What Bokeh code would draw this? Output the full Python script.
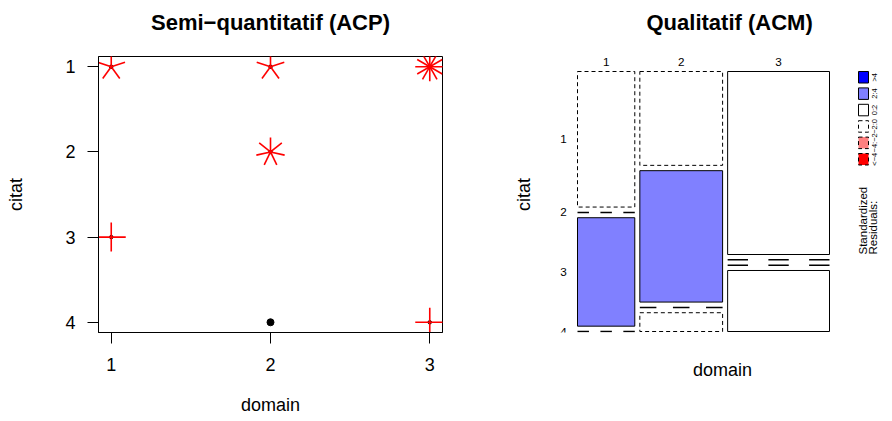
import numpy as np
from bokeh.plotting import figure
from bokeh.models import Range1d, FixedTicker, ColumnDataSource, Title
from bokeh.layouts import row
from bokeh.embed import file_html
from bokeh.resources import INLINE
from bokeh.core.properties import value

FONT = "Liberation Sans"

# ---------------- data ----------------
domain_levels = [1, 2, 3]
citat_levels = [1, 2, 3, 4]
counts_domain1 = [5, 0, 4, 0]
counts_domain2 = [5, 7, 0, 1]
counts_domain3 = [12, 0, 0, 4]
residual_breaks = [-4, -2, 0, 2, 4]
residual_labels = ["<\u22124", "\u22124:\u22122", "\u22122:0", "0:2", "2:4", ">4"]
residual_colors = ["#FF0000", "#FF8080", "#FFFFFF", "#FFFFFF", "#8080FF", "#0000FF"]
residual_dashed = [True, True, True, False, False, False]

table = np.array([counts_domain1, counts_domain2, counts_domain3], dtype=float)

# ---------------- shared layout ----------------
H = 421
TOP, BOTTOM = 56, 332            # frame top/bottom (shared by both panels)
BT, BB = TOP, H - BOTTOM


def style_axis(ax):
    ax.major_tick_in = 0
    ax.minor_tick_out = 0
    ax.minor_tick_in = 0
    ax.axis_line_color = "black"
    ax.major_tick_line_color = "black"
    ax.major_label_text_font = FONT
    ax.major_label_text_font_size = "18px"
    ax.major_label_text_color = "black"
    ax.axis_label_text_font = FONT
    ax.axis_label_text_font_size = "18px"
    ax.axis_label_text_font_style = "normal"
    ax.axis_label_text_color = "black"


def add_titles(p, text, align, offset):
    # invisible spacer between frame and title, then the bold title above it
    p.add_layout(Title(text=" ", text_font=FONT, text_font_size="12px", text_color="white",
                       standoff=4), "above")
    p.add_layout(Title(text=text, align=align, offset=offset, text_font=FONT, text_font_size="22px",
                       text_font_style="bold", text_color="black", vertical_align="top",
                       standoff=0), "above")


# ---------------- left: sunflower plot ----------------
XR = (0.92, 3.08)
YR = (4.12, 0.88)
W1 = 446
BL1, BR1 = 98, 4
FW1, FH = W1 - BL1 - BR1, H - BT - BB
p1 = figure(width=W1, height=H, sizing_mode="fixed",
            min_border_left=BL1, min_border_right=BR1, min_border_top=BT, min_border_bottom=BB,
            x_range=Range1d(*XR), y_range=Range1d(*YR),
            toolbar_location=None, output_backend="svg", title=None)
add_titles(p1, "Semi\u2212quantitatif (ACP)", "center", 0)
p1.grid.visible = False
p1.outline_line_color = "black"
p1.outline_line_alpha = 1
p1.outline_line_width = 1
p1.background_fill_color = "white"
p1.border_fill_color = "white"

for ax in (p1.xaxis[0], p1.yaxis[0]):
    style_axis(ax)
    ax.major_tick_out = 11
p1.xaxis.ticker = FixedTicker(ticks=domain_levels)
p1.yaxis.ticker = FixedTicker(ticks=citat_levels)
p1.xaxis.axis_label = "domain"
p1.yaxis.axis_label = "citat"
p1.xaxis.major_label_standoff = 14
p1.xaxis.axis_label_standoff = 21
p1.yaxis.major_label_standoff = 12
p1.yaxis.axis_label_standoff = 36

# sunflower construction
PETAL_PX = 14.5
ux = (XR[1] - XR[0]) / FW1
uy = (YR[0] - YR[1]) / FH
one_x, one_y, multi_x, multi_y = [], [], [], []
sx0, sy0, sx1, sy1 = [], [], [], []
for j, d in enumerate(domain_levels):
    for i, c in enumerate(citat_levels):
        n = int(table[j, i])
        if n == 1:
            one_x.append(d); one_y.append(c)
        elif n > 1:
            multi_x.append(d); multi_y.append(c)
            for k in range(1, n + 1):
                deg = 2 * np.pi * k / n
                sx0.append(d); sy0.append(c)
                sx1.append(d + np.sin(deg) * PETAL_PX * ux)
                sy1.append(c - np.cos(deg) * PETAL_PX * uy)
p1.scatter(one_x, one_y, marker="circle", size=7, fill_color="black", line_color="black")
p1.scatter(multi_x, multi_y, marker="circle", size=3.5, fill_color="black", line_color="black")
p1.segment(sx0, sy0, sx1, sy1, line_color="#FF0000", line_width=1.6)

# ---------------- right: mosaic plot ----------------
# the right frame uses page-pixel coordinates (y downward)
W2 = 446
FX0, FX1 = 559, 885
BL2 = FX0 - W1
BR2 = W1 + W2 - FX1
p2 = figure(width=W2, height=H, sizing_mode="fixed",
            min_border_left=BL2, min_border_right=BR2, min_border_top=BT, min_border_bottom=BB,
            x_range=Range1d(FX0, FX1), y_range=Range1d(BOTTOM, TOP),
            toolbar_location=None, output_backend="svg", title=None)
add_titles(p2, "Qualitatif (ACM)", "left", 646 - FX0)
p2.grid.visible = False
p2.outline_line_color = None
p2.background_fill_color = "white"
p2.border_fill_color = "white"
for ax in (p2.xaxis[0], p2.yaxis[0]):
    style_axis(ax)
    ax.ticker = FixedTicker(ticks=[])
    ax.axis_line_color = None
    ax.major_tick_line_color = None
    ax.major_tick_out = 0
    ax.major_label_standoff = 0
p2.xaxis.axis_label = "domain"
p2.xaxis.axis_label_standoff = 27
p2.yaxis.axis_label = "citat"
p2.yaxis.axis_label_standoff = 26

MOS_L, MOS_R, MOS_T, MOS_B = 577, 829, 71, 331
GAPX, GAPY = 0.02, 0.0205

col_tot = table.sum(axis=1)
row_tot = table.sum(axis=0)
N = table.sum()
expected = np.outer(col_tot, row_tot) / N
resid = (table - expected) / np.sqrt(expected)

ncol, nrow = table.shape
gx = GAPX * (MOS_R - MOS_L)
usable_w = (MOS_R - MOS_L) - gx * (ncol - 1)
gy = GAPY * (MOS_B - MOS_T)
usable_h = (MOS_B - MOS_T) - gy * (nrow - 1)

cells = {False: dict(left=[], right=[], top=[], bottom=[], color=[]),
         True: dict(left=[], right=[], top=[], bottom=[], color=[])}
zx0, zx1, zy = [], [], []
col_centers = []
row_centers_first = []
xl = MOS_L
for j in range(ncol):
    w = usable_w * col_tot[j] / N
    xr = xl + w
    col_centers.append((xl + xr) / 2)
    yt = MOS_T
    for i in range(nrow):
        h = usable_h * table[j, i] / col_tot[j]
        yb = yt + h
        if j == 0:
            row_centers_first.append((yt + yb) / 2)
        if table[j, i] > 0:
            b = int(np.searchsorted(residual_breaks, resid[j, i]))
            dsh = residual_dashed[b]
            cells[dsh]["left"].append(xl); cells[dsh]["right"].append(xr)
            cells[dsh]["top"].append(yt); cells[dsh]["bottom"].append(yb)
            cells[dsh]["color"].append(residual_colors[b])
        else:
            for k in (0, 2, 4):
                zx0.append(xl + w * k / 5); zx1.append(xl + w * (k + 1) / 5); zy.append(yt)
        yt = yb + gy
    xl = xr + gx

p2.quad(source=ColumnDataSource(cells[False]), left="left", right="right", top="top", bottom="bottom",
        fill_color="color", line_color="black", line_width=1)
p2.quad(source=ColumnDataSource(cells[True]), left="left", right="right", top="top", bottom="bottom",
        fill_color="color", line_color="black", line_width=1, line_dash="4 3")
p2.segment(zx0, zy, zx1, zy, line_color="black", line_width=1.5)

# category labels
p2.text(col_centers, [61] * ncol, text=[str(d) for d in domain_levels],
        text_font=value(FONT), text_font_size="11.7px", text_align="center", text_baseline="middle",
        text_color="black")
p2.text([563] * nrow, row_centers_first, text=[str(c) for c in citat_levels],
        text_font=value(FONT), text_font_size="11.7px", text_align="center", text_baseline="middle",
        text_color="black")

# legend
LEG_X0, LEG_X1, LEG_TOP, LEG_H, LEG_PITCH = 858, 868, 71, 11.5, 16.4
order = list(range(len(residual_labels)))[::-1]  # top: >4
leg = {False: dict(left=[], right=[], top=[], bottom=[], color=[]),
       True: dict(left=[], right=[], top=[], bottom=[], color=[])}
lab_y = []
for r, b in enumerate(order):
    t = LEG_TOP + r * LEG_PITCH
    dsh = residual_dashed[b]
    leg[dsh]["left"].append(LEG_X0); leg[dsh]["right"].append(LEG_X1)
    leg[dsh]["top"].append(t); leg[dsh]["bottom"].append(t + LEG_H)
    leg[dsh]["color"].append(residual_colors[b])
    lab_y.append(t + LEG_H / 2)
p2.quad(source=ColumnDataSource(leg[False]), left="left", right="right", top="top", bottom="bottom",
        fill_color="color", line_color="black", line_width=1)
p2.quad(source=ColumnDataSource(leg[True]), left="left", right="right", top="top", bottom="bottom",
        fill_color="color", line_color="black", line_width=1, line_dash="4 3")
p2.text([874] * len(order), lab_y, text=[residual_labels[b] for b in order], angle=np.pi / 2,
        text_font=value(FONT), text_font_size="7.5px", text_align="center", text_baseline="middle",
        text_color="black")
p2.text([862.5, 872.5], [254, 254], text=["Standardized", "Residuals:"], angle=np.pi / 2,
        text_font=value(FONT), text_font_size="11.5px", text_align="left", text_baseline="middle",
        text_color="black")

layout = row(p1, p2, spacing=0)
open("out.html", "w").write(file_html(layout, INLINE))
